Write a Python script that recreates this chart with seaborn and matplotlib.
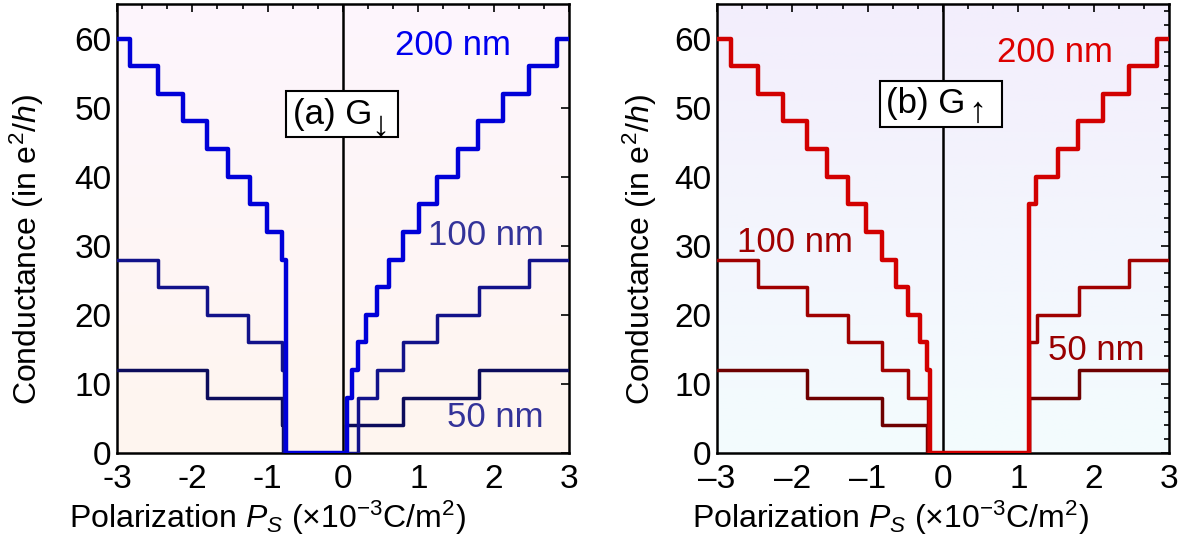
import numpy as np
import pandas as pd
import seaborn as sns
import matplotlib.pyplot as plt
from matplotlib.ticker import MultipleLocator, FixedLocator, FixedFormatter

# data: step edges (x) and conductance level from that edge on (steps-post)
film_names = ["50 nm", "100 nm", "200 nm"]

# panel (a) G_down
a50_x = [-3, -1.81, -0.81, -0.79, 0.04, 0.80, 1.80, 3]
a50_y = [12, 8, 4, 0, 4, 8, 12, 12]
a100_x = [-3, -2.46, -1.81, -1.26, -0.81, -0.78, 0.20, 0.447, 0.80, 1.25, 1.80, 2.47, 3]
a100_y = [28, 24, 20, 16, 12, 0, 8, 12, 16, 20, 24, 28, 28]
a200_x = [-3, -2.83, -2.45, -2.12, -1.81, -1.52, -1.24, -1.01, -0.81, -0.76,
          0.05, 0.115, 0.20, 0.305, 0.447, 0.615, 0.80, 1.013, 1.252, 1.522,
          1.797, 2.12, 2.47, 2.84, 3]
a200_y = [60, 56, 52, 48, 44, 40, 36, 32, 28, 0,
          8, 12, 16, 20, 24, 28, 32, 36, 40, 44,
          48, 52, 56, 60, 60]

# panel (b) G_up
b50_x = [-3, -1.81, -0.81, -0.21, 1.14, 1.80, 3]
b50_y = [12, 8, 4, 0, 8, 12, 12]
b100_x = [-3, -2.46, -1.81, -1.26, -0.81, -0.46, -0.20, 1.14, 1.25, 1.80, 2.47, 3]
b100_y = [28, 24, 20, 16, 12, 8, 0, 16, 20, 24, 28, 28]
b200_x = [-3, -2.82, -2.45, -2.13, -1.81, -1.54, -1.26, -1.02, -0.81, -0.62,
          -0.46, -0.31, -0.21, -0.17, 1.14, 1.24, 1.52, 1.79, 2.12, 2.47, 2.84, 3]
b200_y = [60, 56, 52, 48, 44, 40, 36, 32, 28, 24,
          20, 16, 12, 0, 36, 40, 44, 48, 52, 56, 60, 60]

x_ticks = [-3, -2, -1, 0, 1, 2, 3]
a_xticklabels = ["-3", "-2", "-1", "0", "1", "2", "3"]
b_xticklabels = ["\u20133", "\u20132", "\u20131", "0", "1", "2", "3"]
y_ticks = [0, 10, 20, 30, 40, 50, 60]

#%% style
sns.set_theme(style="white")
plt.rcParams['font.family'] = ['Liberation Sans', 'DejaVu Sans']
plt.rcParams['mathtext.fontset'] = 'custom'
plt.rcParams['mathtext.rm'] = 'Liberation Sans'
plt.rcParams['mathtext.it'] = 'Liberation Sans:italic'
plt.rcParams['mathtext.bf'] = 'Liberation Sans:bold'
plt.rcParams['text.color'] = 'black'
plt.rcParams['axes.labelcolor'] = 'black'

line_w = {"50 nm": 2.5, "100 nm": 2.5, "200 nm": 3.2}
a_colors = {"50 nm": "#0c0c5c", "100 nm": "#12128a", "200 nm": "#0000d8"}
b_colors = {"50 nm": "#6e0000", "100 nm": "#a00000", "200 nm": "#d20000"}
a_label_colors = {"50 nm": "#333399", "100 nm": "#333399", "200 nm": "#0000ee"}
b_label_colors = {"50 nm": "#990000", "100 nm": "#a00000", "200 nm": "#dd0000"}
a_label_pos = {"50 nm": (1.38, 5.2), "100 nm": (1.13, 31.5), "200 nm": (0.69, 59)}
b_label_pos = {"50 nm": (1.39, 14.9), "100 nm": (-2.74, 30.5), "200 nm": (0.72, 58)}


def make_df(curves):
    frames = []
    for name, (xs, ys) in zip(film_names, curves):
        frames.append(pd.DataFrame({"P": xs, "G": ys, "film": name}))
    return pd.concat(frames, ignore_index=True)


df_a = make_df([(a50_x, a50_y), (a100_x, a100_y), (a200_x, a200_y)])
df_b = make_df([(b50_x, b50_y), (b100_x, b100_y), (b200_x, b200_y)])

fig = plt.figure(figsize=(12.02, 5.52), dpi=100)
ax_a = fig.add_axes([117 / 1202, 99 / 552, 452 / 1202, 449 / 552])
ax_b = fig.add_axes([717 / 1202, 99 / 552, 452 / 1202, 449 / 552])


def gradient_bg(ax, top, bottom):
    top = np.array(plt.matplotlib.colors.to_rgb(top))
    bottom = np.array(plt.matplotlib.colors.to_rgb(bottom))
    t = np.linspace(0, 1, 256)[:, None, None]
    img = top * (1 - t) + bottom * t
    ax.imshow(img, extent=[-3, 3, 0, 65], aspect="auto", origin="upper", zorder=0)


def draw_panel(ax, df, colors, label_colors, label_pos, xticklabels, box_text, box_xy,
               arrow, arrow_xy, xlabel_x, ylabel_x, right_minor):
    ax.axvline(0, color="black", lw=1.8, zorder=1)
    sns.lineplot(data=df, x="P", y="G", hue="film", size="film",
                 palette=colors, sizes=line_w, hue_order=film_names,
                 estimator=None, sort=False, drawstyle="steps-post",
                 legend=False, ax=ax, zorder=3)
    for name in film_names:
        ax.text(*label_pos[name], name, color=label_colors[name], fontsize=25,
                ha="left", va="center", zorder=4)
    # panel tag in a white box, spin arrow as a lowered subscript
    ax.text(*box_xy, box_text, fontsize=25, ha="left", va="baseline", zorder=5,
            bbox=dict(boxstyle="square,pad=0.2", fc="white", ec="black", lw=1.5))
    ax.text(*arrow_xy, arrow, fontsize=26, ha="center", va="center", zorder=6)
    ax.set_xlim(-3, 3)
    ax.set_ylim(0, 65)
    ax.xaxis.set_major_locator(FixedLocator(x_ticks))
    ax.xaxis.set_major_formatter(FixedFormatter(xticklabels))
    ax.xaxis.set_minor_locator(MultipleLocator(1 / 3))
    ax.set_yticks(y_ticks)
    ax.yaxis.set_minor_locator(MultipleLocator(2))
    ax.tick_params(which="both", direction="in", top=True, right=True,
                   labelsize=24, width=1.2, colors="black")
    ax.tick_params(which="major", length=6)
    ax.tick_params(which="minor", length=3.5, right=right_minor)
    ax.tick_params(axis="x", pad=8)
    ax.tick_params(axis="y", pad=4)
    for s in ax.spines.values():
        s.set_linewidth(1.8)
        s.set_color("black")
    ax.set_xlabel(r"Polarization $P_S$ ($\times$10$^{\mathrm{-3}}$C/m$^2$)", fontsize=23)
    ax.set_ylabel(r"Conductance (in e$^2$/$h$)", fontsize=23)
    ax.xaxis.label.set_va("center")
    ax.yaxis.label.set_va("center")
    ax.xaxis.set_label_coords(xlabel_x, -0.145)
    ax.yaxis.set_label_coords(ylabel_x, 0.452)


gradient_bg(ax_a, "#fdf5fd", "#fff6ef")
gradient_bg(ax_b, "#f3eefc", "#f3fcfe")

draw_panel(ax_a, df_a, a_colors, a_label_colors, a_label_pos, a_xticklabels,
           "(a) G  ", (-0.67, 47.7), "\u2193", (0.50, 47.3), 0.332, -0.199, False)
draw_panel(ax_b, df_b, b_colors, b_label_colors, b_label_pos, b_xticklabels,
           "(b) G   ", (-0.75, 49.15), "\u2191", (0.46, 49.3), 0.383, -0.170, True)

fig.savefig("out.png", dpi=100)
